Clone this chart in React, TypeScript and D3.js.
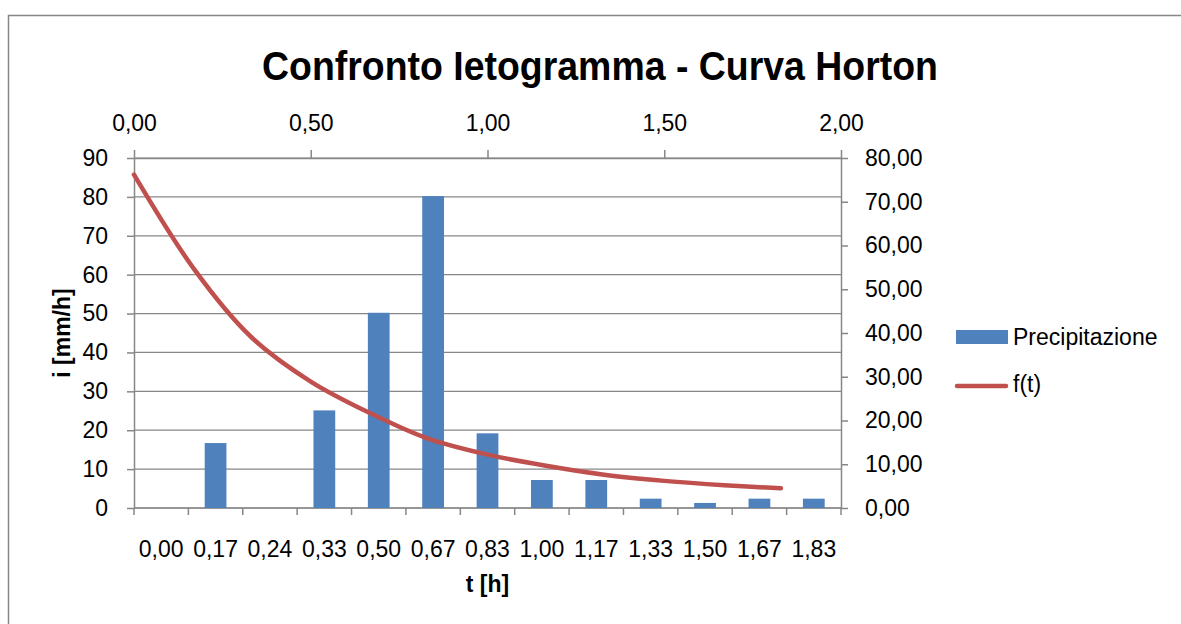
import React, { useEffect, useRef, ReactElement } from 'react'
import * as d3 from 'd3'

// categories on the primary x axis (t [h])
const categories = ['0,00', '0,17', '0,24', '0,33', '0,50', '0,67', '0,83', '1,00', '1,17', '1,33', '1,50', '1,67', '1,83']
// bar series: Precipitazione, i [mm/h]
const precipitation = [0, 16.7, 0, 25.1, 50.2, 80.2, 19.2, 7.2, 7.2, 2.4, 1.3, 2.4, 2.4]
// line series f(t) on the secondary axes
const hortonTimes = [0, 0.17, 0.33, 0.5, 0.67, 0.83, 1.0, 1.17, 1.33, 1.5, 1.67, 1.83]
const hortonValues = [76.2, 54.6, 39.2, 28.9, 21.6, 15.9, 12.2, 9.6, 7.6, 6.2, 5.2, 4.5]
// tick values
const leftTicks = [0, 10, 20, 30, 40, 50, 60, 70, 80, 90]
const rightTicks = [0, 10, 20, 30, 40, 50, 60, 70, 80]
const topTicks = [0, 0.5, 1, 1.5, 2]

const FONT = '"Liberation Sans", Arial, sans-serif'
const GRID = '#878787'
const BAR = '#4F81BD'
const LINE = '#C0504D'

const it = d3.formatLocale({ decimal: ',', thousands: '.', grouping: [3], currency: ['', '€'] })
const f2 = it.format('.2f')

const App = (): ReactElement => {
  const ref = useRef<SVGSVGElement>(null)

  const drawChart = () => {
    const svg = d3.select(ref.current)
    svg.selectAll('*').remove()

    const left = 134
    const right = 841
    const top = 158
    const bottom = 508

    // chart frame
    svg.append('rect')
      .attr('x', 8.5).attr('y', 15.5)
      .attr('width', 1300).attr('height', 700)
      .attr('fill', '#fff')
      .attr('stroke', GRID)
      .attr('stroke-width', 1.5)

    const x = d3.scaleBand<string>()
      .domain(categories)
      .range([left, right])
      .paddingInner(0.6)
      .paddingOuter(0.3)
    const step = x.step()
    const yLeft = d3.scaleLinear().domain([0, 90]).range([bottom, top])
    const yRight = d3.scaleLinear().domain([0, 80]).range([bottom, top])
    const xTop = d3.scaleLinear().domain([0, 2]).range([left, right])

    // horizontal gridlines
    svg.append('g')
      .selectAll('line')
      .data(leftTicks)
      .join('line')
      .attr('x1', left).attr('x2', right)
      .attr('y1', d => yLeft(d)).attr('y2', d => yLeft(d))
      .attr('stroke', GRID)
      .attr('stroke-width', 1.2)

    const styleAxis = (g: d3.Selection<SVGGElement, unknown, null, undefined>) => {
      g.select('.domain').attr('stroke', GRID).attr('stroke-width', 1.5)
      g.selectAll('.tick line').attr('stroke', GRID).attr('stroke-width', 1.5)
      g.selectAll('.tick text')
        .attr('fill', '#000')
        .style('font-family', FONT)
        .style('font-size', '23px')
    }

    // left axis
    svg.append('g')
      .attr('transform', `translate(${left},0)`)
      .call(d3.axisLeft(yLeft).tickValues(leftTicks).tickSizeInner(7).tickSizeOuter(0).tickPadding(19).tickFormat(d => String(d)))
      .call(styleAxis)

    // right axis
    svg.append('g')
      .attr('transform', `translate(${right},0)`)
      .call(d3.axisRight(yRight).tickValues(rightTicks).tickSizeInner(7).tickSizeOuter(0).tickPadding(17).tickFormat(d => f2(d as number)))
      .call(styleAxis)

    // top axis
    svg.append('g')
      .attr('transform', `translate(0,${top})`)
      .call(d3.axisTop(xTop).tickValues(topTicks).tickSizeInner(8).tickSizeOuter(0).tickPadding(19).tickFormat(d => f2(d as number)))
      .call(styleAxis)

    // bottom category axis: ticks on category boundaries
    const bx = svg.append('g')
    bx.append('line')
      .attr('x1', left).attr('x2', right)
      .attr('y1', bottom).attr('y2', bottom)
      .attr('stroke', GRID).attr('stroke-width', 1.5)
    bx.selectAll('line.tk')
      .data(d3.range(categories.length + 1))
      .join('line')
      .attr('class', 'tk')
      .attr('x1', i => left + i * step).attr('x2', i => left + i * step)
      .attr('y1', bottom).attr('y2', bottom + 7)
      .attr('stroke', GRID).attr('stroke-width', 1.5)
    bx.selectAll('text')
      .data(categories)
      .join('text')
      .attr('x', d => (x(d) ?? 0) + x.bandwidth() / 2)
      .attr('y', 557)
      .attr('text-anchor', 'middle')
      .style('font-family', FONT)
      .style('font-size', '23px')
      .text(d => d)

    // bars
    svg.append('g')
      .selectAll('rect')
      .data(precipitation)
      .join('rect')
      .attr('x', (d, i) => x(categories[i]) ?? 0)
      .attr('y', d => yLeft(d))
      .attr('width', x.bandwidth())
      .attr('height', d => bottom - yLeft(d))
      .attr('fill', BAR)

    // Horton curve
    const line = d3.line<number>()
      .x((d, i) => xTop(hortonTimes[i]))
      .y(d => yRight(d))
      .curve(d3.curveCatmullRom.alpha(0.5))
    svg.append('path')
      .datum(hortonValues)
      .attr('d', line)
      .attr('fill', 'none')
      .attr('stroke', LINE)
      .attr('stroke-width', 4.5)
      .attr('stroke-linecap', 'round')

    // title
    svg.append('text')
      .attr('x', 600).attr('y', 80)
      .attr('text-anchor', 'middle')
      .attr('textLength', 676)
      .attr('lengthAdjust', 'spacingAndGlyphs')
      .style('font-family', FONT)
      .style('font-size', '40px')
      .style('font-weight', 'bold')
      .text('Confronto Ietogramma - Curva Horton')

    // axis titles
    svg.append('text')
      .attr('x', (left + right) / 2).attr('y', 592)
      .attr('text-anchor', 'middle')
      .style('font-family', FONT)
      .style('font-size', '23px')
      .style('font-weight', 'bold')
      .text('t [h]')
    svg.append('text')
      .attr('transform', `translate(70,${(top + bottom) / 2}) rotate(-90)`)
      .attr('text-anchor', 'middle')
      .style('font-family', FONT)
      .style('font-size', '23px')
      .style('font-weight', 'bold')
      .text('i [mm/h]')

    // legend
    const lg = svg.append('g')
    lg.append('rect')
      .attr('x', 956).attr('y', 330)
      .attr('width', 52).attr('height', 14)
      .attr('fill', BAR)
    lg.append('text')
      .attr('x', 1013).attr('y', 345)
      .style('font-family', FONT)
      .style('font-size', '23px')
      .text('Precipitazione')
    lg.append('line')
      .attr('x1', 957).attr('x2', 1006)
      .attr('y1', 386).attr('y2', 386)
      .attr('stroke', LINE)
      .attr('stroke-width', 4.5)
      .attr('stroke-linecap', 'round')
    lg.append('text')
      .attr('x', 1013).attr('y', 392)
      .style('font-family', FONT)
      .style('font-size', '23px')
      .text('f(t)')
  }

  useEffect(drawChart, [])

  return (
    <svg ref={ref} width={1181} height={624} style={{ position: 'absolute', left: 0, top: 0, background: '#fff' }} />
  )
}

export default App
